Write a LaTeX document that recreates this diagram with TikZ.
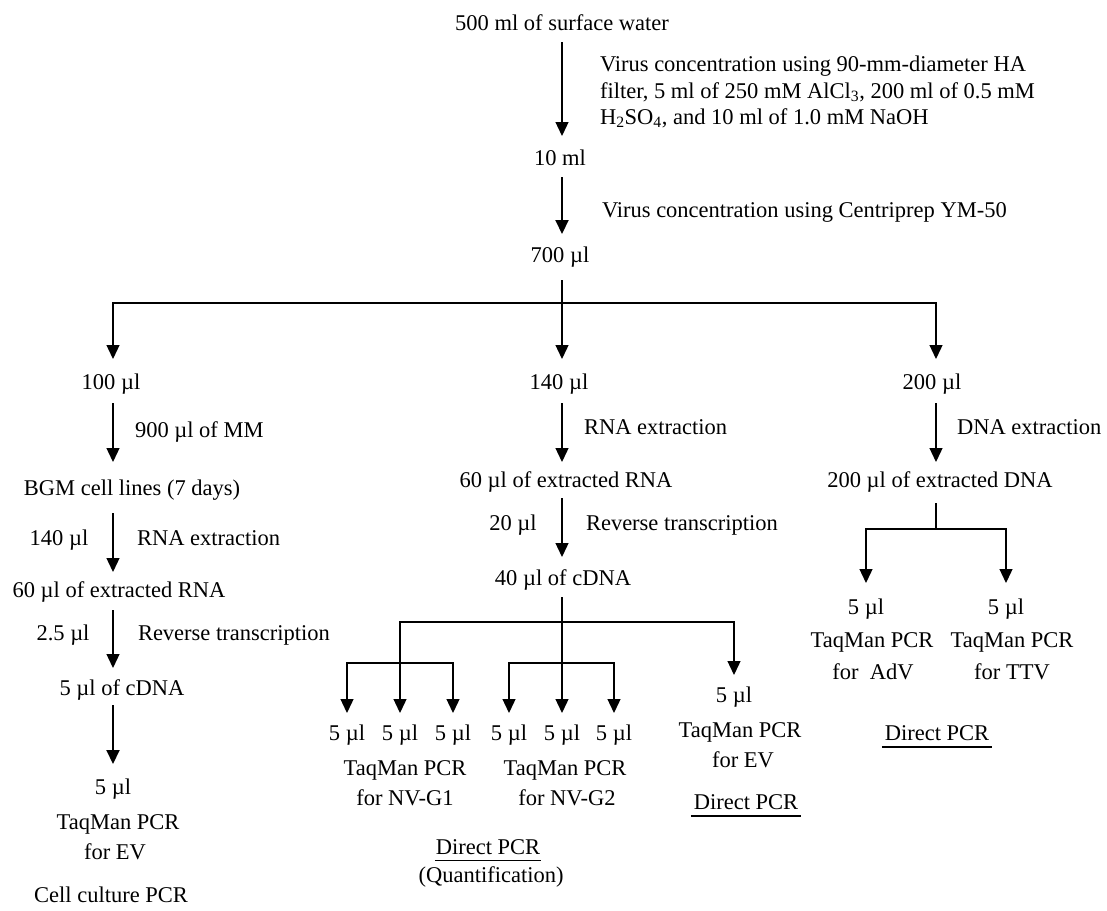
\documentclass[tikz,border=0pt]{standalone}
\usepackage{fontspec}
\setmainfont{Liberation Serif}
\usetikzlibrary{arrows.meta}
\begin{document}
\begin{tikzpicture}[x=1pt,y=-1pt,
  every node/.style={inner sep=0pt, outer sep=0pt, text height=15pt, text depth=0pt,
    font=\fontsize{22.5}{27}\selectfont},
  ln/.style={line width=1.3pt},
  arr/.style={ln,-{Triangle[length=14pt,width=13pt]}},
  thickarr/.style={line width=2pt,-{Triangle[length=14pt,width=13pt]}},
  ul/.style={line width=1.1pt}]
\useasboundingbox (0,0) rectangle (1107,910);
\coordinate (cL) at (113,0);
\coordinate (cM) at (562,0);
\coordinate (cR) at (936,0);

% top
\node (w500) at (562,23) {500 ml of surface water};
\node[anchor=west] (c1a) at (600,64) {Virus concentration using 90-mm-diameter HA};
\node[anchor=west] (c1b) at (600,91) {filter, 5 ml of 250 mM AlCl\textsubscript{3}, 200 ml of 0.5 mM};
\node[anchor=west] (c1c) at (600,117) {H\textsubscript{2}SO\textsubscript{4}, and 10 ml of 1.0 mM NaOH};
\node (w10) at (560,158) {10 ml};
\node[anchor=west] (c2) at (602,210) {Virus concentration using Centriprep YM-50};
\node (w700) at (560,255) {700 µl};
\coordinate (J1) at (562,303);

\draw[arr,shorten <=11.5pt,shorten >=14.5pt] (w500.south -| cM) -- (w10.north -| cM);
\draw[thickarr,shorten <=11.5pt,shorten >=13.5pt] (w10.south -| cM) -- (w700.north -| cM);
\draw[ln,shorten <=17.5pt] (w700.south -| cM) -- (J1);

% second level
\node (a100) at (111,382) {100 µl};
\node (b140) at (559,382) {140 µl};
\node (c200) at (932,382) {200 µl};
\draw[arr,shorten >=15.5pt] (J1) -| (a100.north -| cL);
\draw[arr,shorten >=15.5pt] (J1) -- (b140.north -| cM);
\draw[arr,shorten >=15.5pt] (J1) -| (c200.north -| cR);

% left column
\node[anchor=west] (l1) at (135,430) {900 µl of MM};
\node (bgm) at (132,488) {BGM cell lines (7 days)};
\node (l140) at (59,538) {140 µl};
\node[anchor=west] (l2) at (137,538) {RNA extraction};
\node (lrna) at (119,590) {60 µl of extracted RNA};
\node (l25) at (63,633) {2.5 µl};
\node[anchor=west] (l3) at (138,633) {Reverse transcription};
\node (lcdna) at (122,688) {5 µl of cDNA};
\node (l5) at (113,787) {5 µl};
\node (ltaq) at (118,822) {TaqMan PCR};
\node (lev) at (115,852) {for EV};
\node (lcc) at (111,895) {Cell culture PCR};

\draw[arr,shorten <=13.5pt,shorten >=18.5pt] (a100.south -| cL) -- (bgm.north -| cL);
\draw[arr,shorten <=17.5pt,shorten >=10.5pt] (bgm.south -| cL) -- (lrna.north -| cL);
\draw[arr,shorten <=12.5pt,shorten >=12.5pt] (lrna.south -| cL) -- (lcdna.north -| cL);
\draw[thickarr,shorten <=9.5pt,shorten >=15.5pt] (lcdna.south -| cL) -- (l5.north -| cL);

% middle column
\node[anchor=west] (m1) at (584,427) {RNA extraction};
\node (mrna) at (566,480) {60 µl of extracted RNA};
\node (m20) at (513,523) {20 µl};
\node[anchor=west] (m2) at (586,523) {Reverse transcription};
\node (mcdna) at (563,578) {40 µl of cDNA};
\coordinate (J2) at (562,622);
\coordinate (J3) at (400,663);
\coordinate (J4) at (562,663);

\draw[arr,shorten <=13.5pt,shorten >=10.5pt] (b140.south -| cM) -- (mrna.north -| cM);
\draw[arr,shorten <=10.5pt,shorten >=13.5pt] (mrna.south -| cM) -- (mcdna.north -| cM);
\draw[ln,shorten <=11.5pt] (mcdna.south -| cM) -- (J2);

\node (g1) at (347,733) {5 µl};
\node (g2) at (400,733) {5 µl};
\node (g3) at (453,733) {5 µl};
\node (g4) at (509,733) {5 µl};
\node (g5) at (562,733) {5 µl};
\node (g6) at (614,733) {5 µl};
\node (t1) at (405,768) {TaqMan PCR};
\node (f1) at (405,798) {for NV-G1};
\node (t2) at (565,768) {TaqMan PCR};
\node (f2) at (567,798) {for NV-G2};
\node (dp1) at (488,847) {Direct PCR};
\node (q) at (491,875) {(Quantification)};
\draw[ul] ([shift={(-1,6)}]dp1.south west) -- ([shift={(1,6)}]dp1.south east);

\draw[ln] (J2) -| (J3);
\draw[arr,shorten >=12.5pt] (J3) -| (g1.north);
\draw[arr,shorten >=12.5pt] (J3) -- (g2.north);
\draw[arr,shorten >=12.5pt] (J3) -| (g3.north);
\draw[arr,shorten >=12.5pt] (J2) -- (g5.north);
\draw[arr,shorten >=12.5pt] (J4) -| (g4.north);
\draw[arr,shorten >=12.5pt] (J4) -| (g6.north);

\node (ev5) at (734,695) {5 µl};
\node (evt) at (740,730) {TaqMan PCR};
\node (evf) at (743,760) {for EV};
\node (dp2) at (746,802) {Direct PCR};
\draw[ul] ([shift={(-3,6.5)}]dp2.south west) -- ([shift={(3,6.5)}]dp2.south east);
\draw[arr,shorten >=12.5pt] (J2) -| (ev5.north);

% right column
\node[anchor=west] (r1) at (957,427) {DNA extraction};
\node (rdna) at (940,480) {200 µl of extracted DNA};
\coordinate (J5) at (936,529);
\draw[arr,shorten <=13.5pt,shorten >=10.5pt] (c200.south -| cR) -- (rdna.north -| cR);
\draw[ln,shorten <=15.5pt] (rdna.south -| cR) -- (J5);

\node (a5) at (866,607) {5 µl};
\node (t5) at (1006,607) {5 µl};
\node (ta) at (872,640) {TaqMan PCR};
\node (fa) at (873,672) {for \ AdV};
\node (tt) at (1012,640) {TaqMan PCR};
\node (ft) at (1012,672) {for TTV};
\node (dp3) at (937,733) {Direct PCR};
\draw[ul] ([shift={(-3,6.5)}]dp3.south west) -- ([shift={(3,6.5)}]dp3.south east);
\draw[arr,shorten >=16.5pt] (J5) -| (a5.north);
\draw[arr,shorten >=16.5pt] (J5) -| (t5.north);
\end{tikzpicture}
\end{document}
